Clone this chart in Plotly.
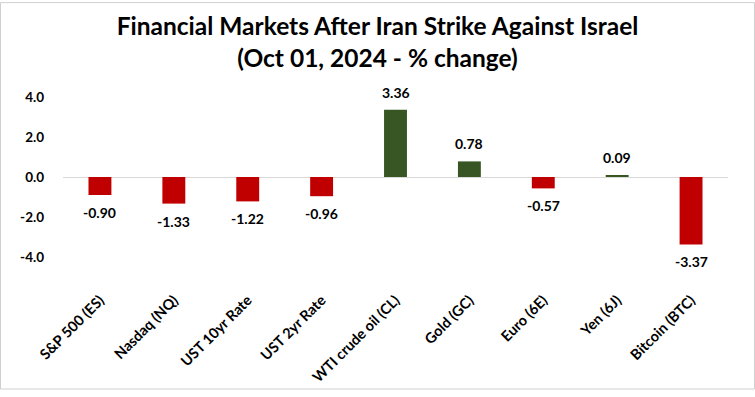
import plotly.graph_objects as go

categories = ["S&P 500 (ES)", "Nasdaq (NQ)", "UST 10yr Rate", "UST 2yr Rate",
              "WTI crude oil (CL)", "Gold (GC)", "Euro (6E)", "Yen (6J)", "Bitcoin (BTC)"]
values = [-0.90, -1.33, -1.22, -0.96, 3.36, 0.78, -0.57, 0.09, -3.37]
tick_vals = [-4, -2, 0, 2, 4]
tick_text = ["-4.0", "-2.0", "0.0", "2.0", "4.0"]
title_lines = ["Financial Markets After Iran Strike Against Israel", "(Oct 01, 2024 - % change)"]

RED = "#c00000"
GREEN = "#375623"
FONT = "Lato"

colors = [GREEN if v >= 0 else RED for v in values]

W, H = 755, 397
ML, MR, MT, MB = 63, 27, 87, 104

fig = go.Figure()
fig.add_trace(go.Bar(
    x=categories, y=values, marker=dict(color=colors, line=dict(width=0)),
    width=0.31, hoverinfo="skip",
))

for c, v in zip(categories, values):
    fig.add_annotation(
        x=c, y=v, text=f"<b>{v:.2f}</b>", showarrow=False,
        yanchor="bottom" if v >= 0 else "top",
        yshift=7 if v >= 0 else -7,
        font=dict(family=FONT, size=14, color="#000000"),
    )

pw = W - ML - MR
ph = H - MT - MB
fig.add_shape(type="rect", xref="paper", yref="paper",
              x0=(0.5 - ML) / pw, x1=(W - 0.5 - ML) / pw,
              y0=-(MB - 0.5) / ph, y1=1 + (MT - 0.5) / ph,
              line=dict(color="#d0d0d0", width=1), fillcolor="rgba(0,0,0,0)", layer="above")

fig.update_layout(
    width=W, height=H,
    margin=dict(l=ML, r=MR, t=MT, b=MB),
    paper_bgcolor="white", plot_bgcolor="white",
    showlegend=False,
    title=dict(text="<b>" + "<br>".join(title_lines) + "</b>",
               x=0.5, xanchor="center", y=1 - 35 / H, yanchor="middle",
               font=dict(family=FONT, size=24.5, color="#000000")),
    font=dict(family=FONT, color="#000000"),
    xaxis=dict(tickangle=-45, showgrid=False, showline=False, ticks="",
               tickfont=dict(family=FONT, size=14.5, color="#000000", weight="bold")),
    yaxis=dict(range=[-5.55, 4.5], tickvals=tick_vals, ticktext=tick_text,
               showgrid=False, showline=False, ticks="",
               zeroline=True, zerolinecolor="#d9d9d9", zerolinewidth=1,
               ticklabelstandoff=18,
               tickfont=dict(family=FONT, size=13.5, color="#000000", weight="bold")),
)

fig.write_html("out.html", config={"displayModeBar": False},
               post_script="document.body.style.margin='0';")
